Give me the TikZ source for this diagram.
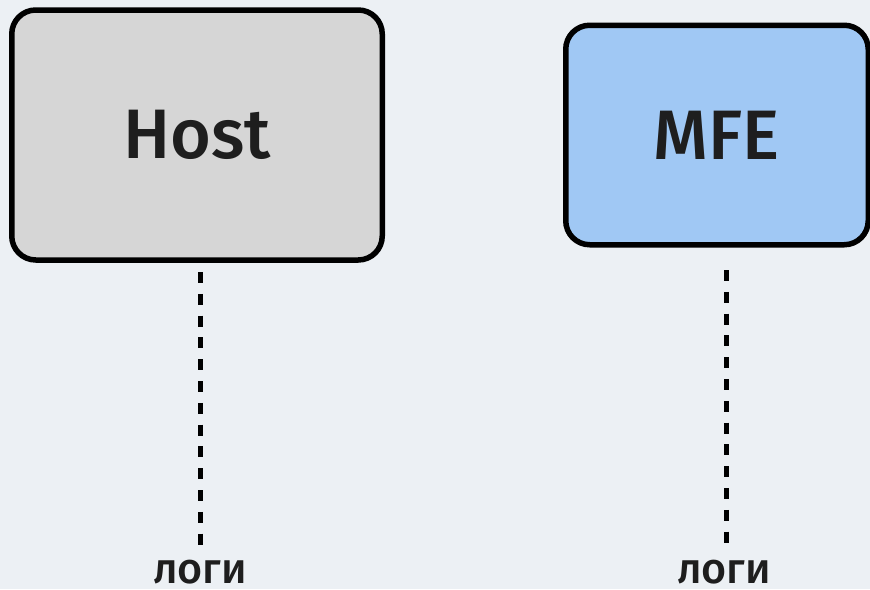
\documentclass[tikz,border=0pt]{standalone}
\usepackage{fontspec}
\setmainfont{Fira Sans}[UprightFont=* Medium]
\definecolor{canvas}{HTML}{ECF0F4}
\definecolor{hostfill}{HTML}{D6D6D6}
\definecolor{mfefill}{HTML}{A0C8F4}
\definecolor{ink}{HTML}{1E1E1E}
\begin{document}
\begin{tikzpicture}[x=1pt,y=-1pt,
  service/.style={draw=black, line width=5.5pt, rounded corners=24pt,
    text=ink, font=\fontsize{70}{80}\selectfont, inner sep=0pt},
  logline/.style={draw=black, line width=5pt, dash pattern=on 11pt off 10.8pt},
  loglabel/.style={text=ink, font=\fontsize{43}{48}\selectfont, anchor=base, inner sep=0pt}]
  % canvas
  \fill[canvas] (0,0) rectangle (870,589);
  \useasboundingbox (0,0) rectangle (870,589);

  % services
  \node[service, fill=hostfill, minimum width=370.5pt, minimum height=250pt]
    (host) at (197,135) {Host};
  \node[service, fill=mfefill, minimum width=302.5pt, minimum height=219.5pt]
    (mfe) at (717,135) {MFE};

  % log outputs
  \node[loglabel] (hostlog) at (200,583) {логи};
  \node[loglabel] (mfelog) at (724,583) {логи};

  \coordinate (hosttop) at (200,272);
  \coordinate (hostend) at (200,544.6);
  \coordinate (mfetop) at (726,270);
  \coordinate (mfeend) at (726,542.6);

  \draw[logline] (hosttop) -- (hostend);
  \draw[logline] (mfetop) -- (mfeend);
\end{tikzpicture}
\end{document}
